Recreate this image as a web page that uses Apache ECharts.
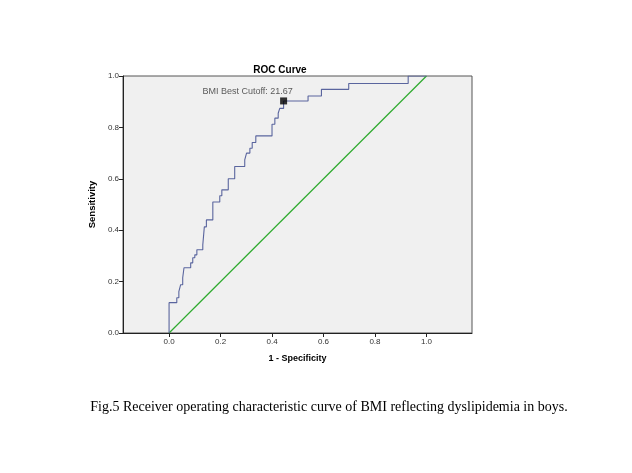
<!DOCTYPE html>
<html>
<head>
<meta charset="utf-8">
<script src="https://cdn.jsdelivr.net/npm/echarts@6/dist/echarts.min.js"></script>
<style>
html,body{margin:0;padding:0;background:#fff;}
#chart{width:632px;height:473px;}
</style>
</head>
<body>
<div id="chart"></div>
<script>
// ROC curve vertices (1 - specificity, sensitivity)
var fpr = [0, 0, 0.030, 0.030, 0.038, 0.038, 0.045, 0.045, 0.053, 0.053, 0.058, 0.058,
  0.084, 0.084, 0.092, 0.092, 0.100, 0.100, 0.108, 0.108, 0.131, 0.131, 0.137, 0.137,
  0.145, 0.145, 0.170, 0.170, 0.197, 0.197, 0.205, 0.205, 0.230, 0.230, 0.255, 0.255,
  0.294, 0.294, 0.301, 0.301, 0.314, 0.314, 0.323, 0.323, 0.337, 0.337, 0.400, 0.400,
  0.411, 0.411, 0.424, 0.424, 0.430, 0.430, 0.445, 0.445, 0.540, 0.540, 0.592, 0.592,
  0.698, 0.698, 0.929, 0.929, 1.0];
var tpr = [0, 0.118, 0.118, 0.137, 0.137, 0.161, 0.161, 0.188, 0.188, 0.215, 0.215, 0.254,
  0.254, 0.273, 0.273, 0.293, 0.293, 0.304, 0.304, 0.324, 0.324, 0.343, 0.343, 0.413,
  0.413, 0.440, 0.440, 0.510, 0.510, 0.534, 0.534, 0.557, 0.557, 0.600, 0.600, 0.648,
  0.648, 0.674, 0.674, 0.700, 0.700, 0.719, 0.719, 0.741, 0.741, 0.767, 0.767, 0.812,
  0.812, 0.836, 0.836, 0.855, 0.855, 0.874, 0.874, 0.903, 0.903, 0.922, 0.922, 0.948,
  0.948, 0.971, 0.971, 1.0, 1.0];
var refX = [0, 1];
var refY = [0, 1];
var cutoffPoint = [0.445, 0.903];
var cutoffLabel = 'BMI Best Cutoff: 21.67';
var tickValues = [0, 0.2, 0.4, 0.6, 0.8, 1.0];
var titleText = 'ROC Curve';
var xName = '1 - Specificity';
var yName = 'Sensitivity';
var captionText = 'Fig.5 Receiver operating characteristic curve of BMI reflecting dyslipidemia in boys.';

var FONT = 'Liberation Sans, Arial, sans-serif';
var chart = echarts.init(document.getElementById('chart'), null, {renderer: 'canvas'});
var rocData = fpr.map(function (x, i) { return [x, tpr[i]]; });
var refData = refX.map(function (x, i) { return [x, refY[i]]; });

chart.setOption({
  animation: false,
  backgroundColor: '#ffffff',
  grid: {
    left: 123, top: 76, width: 349, height: 257,
    show: true, backgroundColor: '#f0f0f0', borderColor: '#555', borderWidth: 1
  },
  graphic: [
    {type: 'text', x: 280, y: 70, z: 10,
     style: {text: titleText, font: 'bold 10px ' + FONT, fill: '#000', align: 'center', verticalAlign: 'middle'}},
    {type: 'text', x: 329, y: 407, z: 10,
     style: {text: captionText, font: '14px "Liberation Serif", "Times New Roman", serif', fill: '#000', align: 'center', verticalAlign: 'middle'}}
  ],
  xAxis: {
    type: 'value', min: -0.179, max: 1.177,
    name: xName, nameLocation: 'middle', nameGap: 21,
    nameTextStyle: {fontFamily: FONT, fontWeight: 'bold', fontSize: 9, color: '#000'},
    axisLine: {show: true, onZero: false, lineStyle: {color: '#222', width: 1}},
    axisTick: {show: true, customValues: tickValues, length: 4, lineStyle: {color: '#222'}},
    axisLabel: {customValues: tickValues, fontFamily: FONT, fontSize: 8, color: '#333', margin: 5,
      formatter: function (v) { return v.toFixed(1); }},
    splitLine: {show: false}
  },
  yAxis: {
    type: 'value', min: 0, max: 1, interval: 0.2,
    name: yName, nameLocation: 'middle', nameGap: 17,
    nameTextStyle: {fontFamily: FONT, fontWeight: 'bold', fontSize: 9.5, color: '#000'},
    axisLine: {show: true, onZero: false, lineStyle: {color: '#222', width: 1}},
    axisTick: {show: true, length: 4, lineStyle: {color: '#222'}},
    axisLabel: {fontFamily: FONT, fontSize: 8, color: '#333', margin: 4,
      formatter: function (v) { return v.toFixed(1); }},
    splitLine: {show: false}
  },
  series: [
    {type: 'line', data: refData, showSymbol: false, symbol: 'none', silent: true,
     emphasis: {disabled: true}, color: '#2eaa2e',
     lineStyle: {color: '#2eaa2e', width: 1.2, opacity: 1}, z: 2},
    {type: 'line', data: rocData, showSymbol: false, symbol: 'none', silent: true,
     emphasis: {disabled: true}, color: '#5a659e',
     lineStyle: {color: '#5a659e', width: 1.1}, z: 3},
    {type: 'scatter', data: [cutoffPoint], symbol: 'rect', symbolSize: 7, silent: true,
     itemStyle: {color: '#000'}, z: 5,
     label: {show: true, position: 'inside', offset: [-36, -9], formatter: cutoffLabel,
       fontFamily: FONT, fontSize: 9, color: '#333'}}
  ]
});
</script>
</body>
</html>
